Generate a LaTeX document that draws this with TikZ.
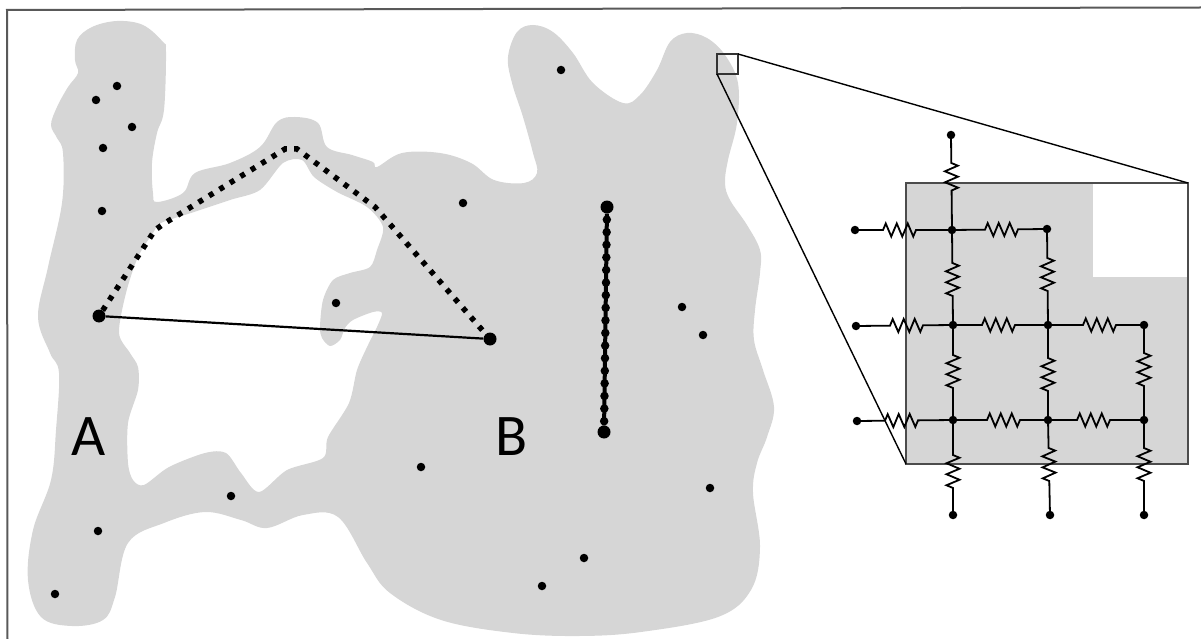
\documentclass[tikz,border=0pt]{standalone}
\usepackage{fontspec}
\setmainfont{Carlito}
\usetikzlibrary{decorations.pathmorphing}
\definecolor{blobgray}{gray}{0.84}
\tikzset{
  dot/.style={circle,fill=black,inner sep=0pt,minimum size=8.5pt},
  bigdot/.style={circle,fill=black,inner sep=0pt,minimum size=13pt},
  netdot/.style={circle,fill=black,inner sep=0pt,minimum size=8.5pt},
  wire/.style={line width=1.8pt},
  res/.style 2 args={wire,decorate,decoration={zigzag,segment length=11pt,amplitude=6.5pt,pre length=#1,post length=#2}},
  bigletter/.style={anchor=base,inner sep=0pt,font=\fontsize{59}{59}\selectfont}
}
\begin{document}
\begin{tikzpicture}[x=1pt,y=-1pt]
\useasboundingbox (0,0) rectangle (1201,639);
% frame
\draw[line width=2pt,black!65] (7.5,639) -- (7,10) -- (1201,7.5);
% region with its hole
\fill[blobgray,even odd rule]
  plot[smooth cycle,tension=0.6] coordinates {(117,21) (143,25) (163,42) (166,52) (164,110) (157,133) (152,163) (153,193) (157,202) (183,193) (195,173) (230,163) (260,147) (277,122) (295,117) (318,123) (327,147) (352,155) (373,162) (377,167) (402,153) (440,153) (471,163) (494,180) (524,183) (537,173) (533,153) (523,117) (512,83) (508,57) (517,32) (533,25) (553,32) (573,53) (593,83) (623,103) (640,95) (657,70) (670,42) (687,33) (707,38) (725,55) (738,83) (737,123) (728,160) (725,183) (730,200) (747,225) (760,250) (760,273) (755,310) (754,340) (763,370) (774,407) (767,437) (757,463) (753,493) (760,547) (751,590) (718,617) (641,632) (579,636) (513,633) (441,620) (390,593) (367,563) (338,517) (303,515) (267,528) (241,520) (205,512) (164,523) (128,543) (115,597) (103,620) (72,626) (41,617) (28,580) (33,530) (51,480) (56,430) (59,373) (50,353) (38,317) (48,267) (62,203) (63,153) (57,138) (51,125) (57,107) (68,87) (78,73) (75,60) (77,40) (92,27)}
  plot[smooth cycle,tension=0.5] coordinates {(126,293) (138,257) (153,233) (161,223) (191,213) (230,200) (260,190) (283,163) (302,160) (314,177) (337,192) (367,207) (383,227) (377,250) (370,267) (350,273) (333,280) (323,300) (320,327) (322,338) (330,346) (340,340) (345,328) (353,320) (373,312) (382,313) (377,327) (368,345) (357,370) (349,403) (328,437) (323,458) (287,470) (259,492) (241,473) (226,453) (205,453) (169,467) (144,485) (133,480) (128,463) (128,423) (138,390) (138,367) (130,353) (119,333)};
% zoom square and inset
\fill[blobgray] (906,183) rectangle (1188,464);
\fill[white] (1093,184) rectangle (1188,277);
\draw[line width=1.6pt,black!70] (906,183) rectangle (1188,464);
\draw[line width=1.4pt,black!80] (717,54) rectangle (738,74);
\coordinate (zoomtr) at (738,54);
\coordinate (zoombl) at (717,74);
\coordinate (insettr) at (1188,183);
\coordinate (insetbl) at (906,464);
\draw[line width=1.4pt] (zoomtr) -- (insettr);
\draw[line width=1.4pt] (zoombl) -- (insetbl);
% scattered points
\foreach \name/\pos in {p1/{(117,86)},p2/{(96,100)},p3/{(132,127)},p4/{(103,148)},p5/{(102,211)},p6/{(336,303)},p7/{(463,203)},p8/{(561,70)},p9/{(231,496)},p10/{(421,467)},p11/{(98,531)},p12/{(55,594)},p13/{(710,488)},p14/{(584,558)},p15/{(542,586)},p16/{(703,335)},p17/{(682,307)}}
  \node[dot] (\name) at \pos {};
% paths between points
\node[bigdot] (start) at (99,316) {};
\node[bigdot] (end) at (490,339) {};
\coordinate (bend1) at (155,230);
\coordinate (bend2) at (165,223);
\coordinate (bend3) at (285,149);
\coordinate (bend4) at (297,149);
\coordinate (bend5) at (375,207);
\draw[line width=2.2pt] (start) -- (end);
\draw[line width=5.5pt,dash pattern=on 5pt off 7.3pt] (start) -- (bend1) -- (bend2) -- (bend3) -- (bend4) -- (bend5) -- (end);
\node[bigdot] (top) at (607,207) {};
\node[bigdot] (bottom) at (604,432) {};
\draw[line width=4pt] (top) -- (bottom);
\draw[line width=8.5pt,line cap=round,dash pattern=on 0pt off 12.6pt] (top.center) -- (bottom.center);
\node[bigletter] (labelA) at (89,455) {A};
\node[bigletter] (labelB) at (512,455) {B};
% resistor network
\node[netdot] (t1) at (951,135) {};
\node[netdot] (l1) at (855,230) {};
\node[netdot] (l2) at (856,326) {};
\node[netdot] (l3) at (857,421) {};
\node[netdot] (n11) at (952,230) {};
\node[netdot] (n12) at (1047,229) {};
\node[netdot] (n21) at (953,325) {};
\node[netdot] (n22) at (1048,325) {};
\node[netdot] (n23) at (1144,325) {};
\node[netdot] (n31) at (953,420) {};
\node[netdot] (n32) at (1048,420) {};
\node[netdot] (n33) at (1144,420) {};
\node[netdot] (b1) at (953,515) {};
\node[netdot] (b2) at (1050,515) {};
\node[netdot] (b3) at (1144,515) {};
\draw[res={28pt}{35pt}] (t1.center) -- (n11.center);
\draw[res={28pt}{34pt}] (l1.center) -- (n11.center);
\draw[res={33pt}{27pt}] (n11.center) -- (n12.center);
\draw[res={33pt}{27pt}] (n11.center) -- (n21.center);
\draw[res={29pt}{33pt}] (n12.center) -- (n22.center);
\draw[res={34pt}{28pt}] (l2.center) -- (n21.center);
\draw[res={29pt}{33pt}] (n21.center) -- (n22.center);
\draw[res={35pt}{27pt}] (n22.center) -- (n23.center);
\draw[res={30pt}{32pt}] (n21.center) -- (n31.center);
\draw[res={33pt}{28pt}] (n22.center) -- (n32.center);
\draw[res={28pt}{33pt}] (n23.center) -- (n33.center);
\draw[res={28pt}{33pt}] (l3.center) -- (n31.center);
\draw[res={34pt}{26pt}] (n31.center) -- (n32.center);
\draw[res={29pt}{34pt}] (n32.center) -- (n33.center);
\draw[res={35pt}{27pt}] (n31.center) -- (b1.center);
\draw[res={28pt}{33pt}] (n32.center) -- (b2.center);
\draw[res={28pt}{33pt}] (n33.center) -- (b3.center);
\end{tikzpicture}
\end{document}
